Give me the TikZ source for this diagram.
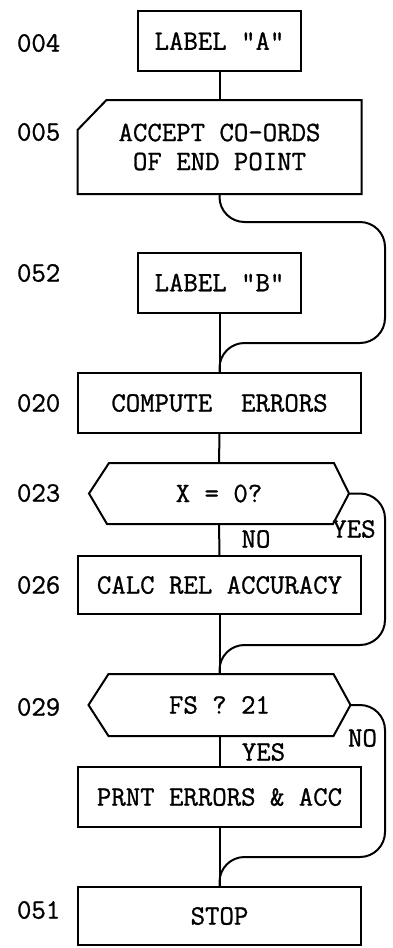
\documentclass[tikz,border=0pt]{standalone}
\usepackage{fontspec}
\setmonofont{Latin Modern Mono}[FakeBold=1.0]
\usetikzlibrary{calc}
\begin{document}
\begin{tikzpicture}[x=1pt,y=-1pt, line width=2pt,
  every node/.style={font=\fontsize{28}{29}\selectfont\ttfamily, inner sep=0pt},
  labbox/.style={draw, minimum width=163pt, minimum height=60pt},
  widebox/.style={draw, minimum width=283pt, minimum height=60pt},
  ghost/.style={draw=none, minimum width=#1, minimum height=60pt},
  stepno/.style={anchor=west},
  flow/.style={rounded corners=25pt}]
\path[use as bounding box] (0,0) rectangle (393,948);

% step numbers
\node[stepno] (s004) at (16,43) {004};
\node[stepno] (s005) at (16,132) {005};
\node[stepno] (s052) at (16,273) {052};
\node[stepno] (s020) at (16,403) {020};
\node[stepno] (s023) at (16,493) {023};
\node[stepno] (s026) at (16,585) {026};
\node[stepno] (s029) at (16,707) {029};
\node[stepno] (s051) at (16,910) {051};

% boxes
\node[labbox] (la) at (219.5,41) {LABEL "A"};
\node[draw=none, minimum width=282pt, minimum height=92pt, align=center] (acc) at (219.5,147) {ACCEPT CO-ORDS\\OF END POINT};
\draw ($(acc.north west)+(0,30)$) -- ($(acc.north west)+(29,0)$) -- (acc.north east) -- (acc.south east) -- (acc.south west) -- cycle;
\node[labbox] (lb) at (219.5,282.5) {LABEL "B"};
\node[widebox] (ce) at (219.5,403) {COMPUTE\ \ ERRORS};
\node[ghost=258pt, minimum height=59pt] (d1) at (219,493.5) {X = 0?};
\draw (d1.west) -- ($(d1.north west)+(20,0)$) -- ($(d1.north east)+(-15,0)$) -- (d1.east) -- ($(d1.south east)+(-16,0)$) -- ($(d1.south west)+(18,0)$) -- cycle;
\node[widebox, minimum height=58pt] (cr) at (219.5,585) {CALC REL ACCURACY};
\node[ghost=260pt] (d2) at (219.5,705) {FS ? 21};
\draw (d2.west) -- ($(d2.north west)+(20,0)$) -- ($(d2.north east)+(-17,0)$) -- (d2.east) -- ($(d2.south east)+(-17,0)$) -- ($(d2.south west)+(20,0)$) -- cycle;
\node[widebox] (pr) at (219.5,797) {PRNT ERRORS \& ACC};
\node[widebox, minimum height=58pt] (st) at (219.5,916) {STOP};

% branch labels
\node (no1) at (256,539) {NO};
\node (yes1) at (354,529) {YES};
\node (yes2) at (263.5,752) {YES};
\node (no2) at (362.5,738) {NO};

% connectors
\draw (la) -- (acc);
\draw[flow] (acc.south) -- (219.5,222) -- (385,222) -- (385,343) -- (219.5,343) -- (ce.north);
\draw (lb) -- (ce);
\draw (ce) -- (d1);
\draw (d1) -- (cr);
\draw[flow] (d1.east) -- (385,493.5) -- (385,645) -- (219.5,645) -- (d2.north);
\draw (cr) -- (d2);
\draw (d2) -- (pr);
\draw[flow] (d2.east) -- (385,705) -- (385,857) -- (219.5,857) -- (st.north);
\draw (pr) -- (st);
\end{tikzpicture}
\end{document}
